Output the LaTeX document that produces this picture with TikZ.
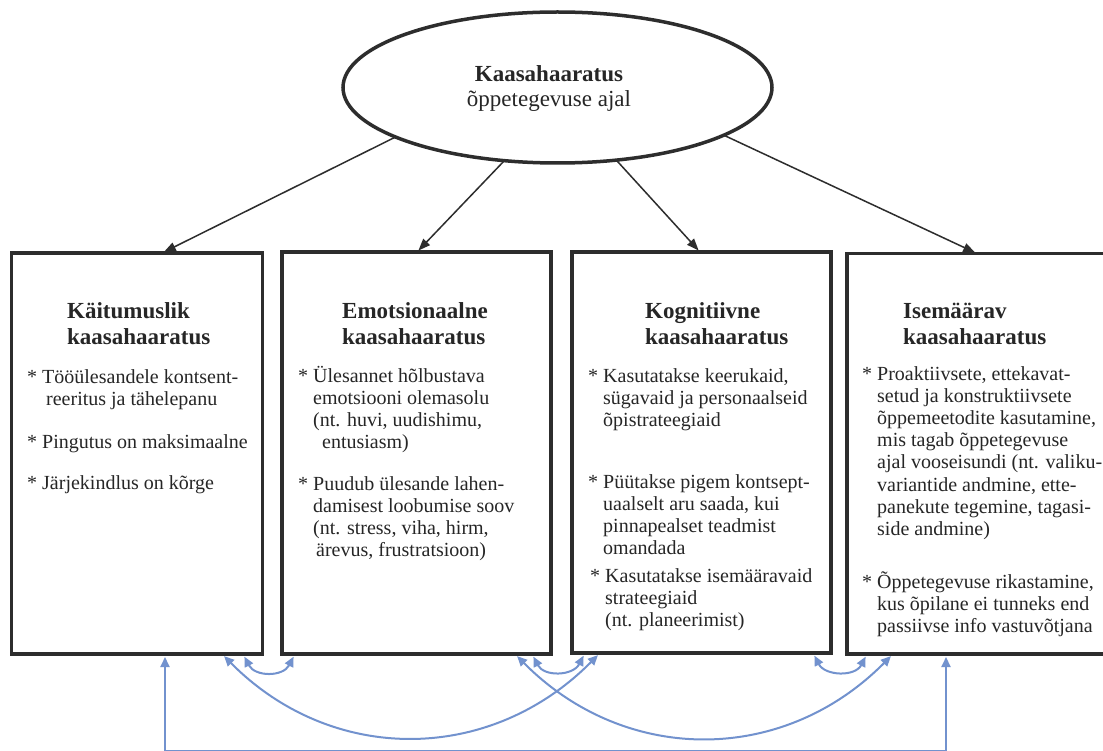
\documentclass[tikz,border=0pt]{standalone}
\usepackage{fontspec}
\setmainfont{Liberation Serif}
\usetikzlibrary{arrows.meta,calc,shapes.geometric}
\definecolor{edge}{RGB}{45,45,45}
\definecolor{link}{RGB}{114,146,206}
\definecolor{txt}{RGB}{38,38,38}
\newcommand{\tlines}[1]{\begin{tabular}[t]{@{}l@{}}#1\end{tabular}}
\newcommand{\cont}{\hphantom{*\ }}
\begin{document}
\begin{tikzpicture}[x=1pt,y=-1pt,
  box/.style={draw=edge,line width=3.5pt,rectangle,inner sep=0pt,outer sep=0pt,anchor=north west},
  titletext/.style={anchor=base west,inner sep=0pt,text=txt,font=\fontsize{23}{26}\selectfont\bfseries},
  bodytext/.style={anchor=base west,inner sep=0pt,text=txt,font=\fontsize{20}{22.2}\selectfont},
  blk/.style={draw=edge,line width=1.5pt,-{Triangle[length=12pt,width=9pt]},shorten >=2pt},
  blu/.style={draw=link,line width=2pt,{Triangle[length=10pt,width=9pt]}-{Triangle[length=10pt,width=9pt]},shorten >=3pt,shorten <=3pt}]
\useasboundingbox[fill=white] (0,0) rectangle (1103,751);

% top ellipse
\node[ellipse,draw=edge,line width=3.5pt,minimum width=429pt,minimum height=151pt,inner sep=0pt,outer sep=0pt] (top) at (557.5,87.5) {};
\node[anchor=base,inner sep=0pt,text=txt,font=\fontsize{23}{25}\selectfont] (toptext) at (549,82)
  {\begin{tabular}[t]{@{}c@{}}\textbf{Kaasahaaratus}\\õppetegevuse ajal\end{tabular}};

% boxes
\node[box,minimum width=251pt,minimum height=401pt] (b1) at (11.5,253) {};
\node[box,minimum width=269pt,minimum height=402pt] (b2) at (282,252) {};
\node[box,minimum width=259pt,minimum height=401pt] (b3) at (572,252) {};
\node[box,minimum width=273pt,minimum height=400.5pt] (b4) at (847,253.5) {};

% titles
\node[titletext] (t1) at (67,319) {\tlines{Käitumuslik\\kaasahaaratus}};
\node[titletext] (t2) at (342,319) {\tlines{Emotsionaalne\\kaasahaaratus}};
\node[titletext] (t3) at (645,319) {\tlines{Kognitiivne\\kaasahaaratus}};
\node[titletext] (t4) at (903,319) {\tlines{Isemäärav\\kaasahaaratus}};

% box 1 body
\node[bodytext] (b1i1) at (27,383) {\tlines{* Tööülesandele kontsent-\\\cont\hspace{4pt}reeritus ja tähelepanu}};
\node[bodytext] (b1i2) at (27,448) {\tlines{* Pingutus on maksimaalne}};
\node[bodytext] (b1i3) at (27,489) {\tlines{* Järjekindlus on kõrge}};

% box 2 body
\node[bodytext] (b2i1) at (298,382) {\tlines{* Ülesannet hõlbustava\\\cont emotsiooni olemasolu\\\cont (nt. huvi, uudishimu,\\\cont\hspace{9pt}entusiasm)}};
\node[bodytext] (b2i2) at (298,490) {\tlines{* Puudub ülesande lahen-\\\cont damisest loobumise soov\\\cont (nt. stress, viha, hirm,\\\cont\hspace{3pt}ärevus, frustratsioon)}};

% box 3 body
\node[bodytext] (b3i1) at (588,382) {\tlines{* Kasutatakse keerukaid,\\\cont sügavaid ja personaalseid\\\cont õpistrateegiaid}};
\node[bodytext] (b3i2) at (588,488) {\tlines{* Püütakse pigem kontsept-\\\cont uaalselt aru saada, kui\\\cont pinnapealset teadmist\\\cont omandada}};
\node[bodytext] (b3i3) at (590,582) {\tlines{* Kasutatakse isemääravaid\\\cont strateegiaid\\\cont (nt. planeerimist)}};

% box 4 body
\node[bodytext] (b4i1) at (862,380) {\tlines{* Proaktiivsete, ettekavat-\\\cont setud ja konstruktiivsete\\\cont õppemeetodite kasutamine,\\\cont mis tagab õppetegevuse\\\cont ajal vooseisundi (nt. valiku-\\\cont variantide andmine, ette-\\\cont panekute tegemine, tagasi-\\\cont side andmine)}};
\node[bodytext] (b4i2) at (862,588) {\tlines{* Õppetegevuse rikastamine,\\\cont kus õpilane ei tunneks end\\\cont passiivse info vastuvõtjana}};

% black arrows
\draw[blk] (top.197) -- ([xshift=150.5pt]b1.north west);
\draw[blk] (top.234) -- ([xshift=135pt]b2.north west);
\draw[blk] (top.309) -- ([xshift=128pt]b3.north west);
\draw[blk] (top.344) -- ([xshift=130pt]b4.north west);

% blue connectors
\coordinate (p1a) at ([xshift=153.5pt]b1.south west);
\coordinate (p1b) at ([xshift=210.5pt]b1.south west);
\coordinate (p1c) at ([xshift=231.5pt]b1.south west);
\coordinate (p2a) at ([xshift=13pt]b2.south west);
\coordinate (p2b) at ([xshift=233pt]b2.south west);
\coordinate (p2c) at ([xshift=250pt]b2.south west);
\coordinate (p3a) at ([xshift=13pt]b3.south west);
\coordinate (p3b) at ([xshift=28pt]b3.south west);
\coordinate (p3c) at ([xshift=241pt]b3.south west);
\coordinate (p4a) at ([xshift=20pt]b4.south west);
\coordinate (p4b) at ([xshift=46pt]b4.south west);
\coordinate (p4c) at ([xshift=99pt]b4.south west);
\coordinate (base) at (555,751);

\draw[blu] (p1c) .. controls ($(p1c)+(12,23)$) and ($(p2a)+(-12,23)$) .. (p2a);
\draw[blu] (p2c) .. controls ($(p2c)+(12,23)$) and ($(p3a)+(-12,23)$) .. (p3a);
\draw[blu] (p3c) .. controls ($(p3c)+(12,23)$) and ($(p4a)+(-12,23)$) .. (p4a);
\draw[blu] (p1b) .. controls ($(p1b)+(110,111)$) and ($(p3b)+(-110,111)$) .. (p3b);
\draw[blu] (p2b) .. controls ($(p2b)+(110,111)$) and ($(p4b)+(-110,111)$) .. (p4b);
\draw[blu] (p1a) |- (base) -| (p4c);
\end{tikzpicture}
\end{document}
